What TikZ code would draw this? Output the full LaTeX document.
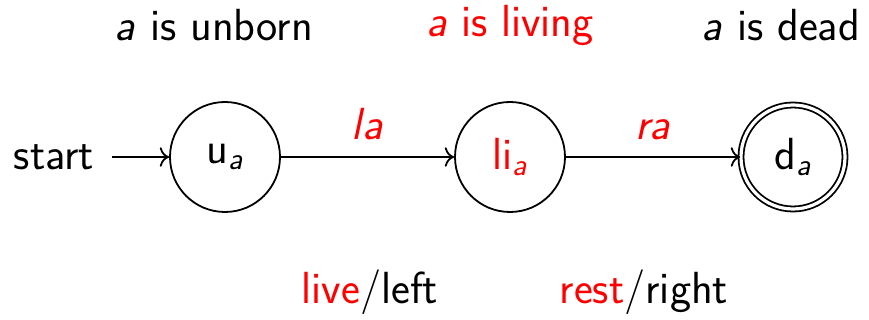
\documentclass[tikz,border=0pt]{standalone}
\usepackage{amsmath}
\usetikzlibrary{arrows.meta}
\newcommand{\sta}[1]{$\textsf{#1}_{\textsf{\textit{a}}}$}
\begin{document}
\begin{tikzpicture}[x=0.5pt,y=-0.5pt,every node/.style={font=\sffamily\fontsize{22.5}{27}\selectfont,inner sep=0pt},
  state/.style={draw,circle,line width=0.9pt,minimum size=55pt},
  edge/.style={-{To[scale=1.3]},line width=0.9pt}]
\useasboundingbox (0,0) rectangle (869,320);
% states of the variable a
\node[state] (u) at (225,157) {\sta{u}};
\node[state,text=red] (li) at (510,157) {\sta{li}};
\node[state,double,double distance=1.6pt,minimum size=52pt] (d) at (793,157) {\sta{d}};
\node (start) at (54,157) {start};
\coordinate (s) at (112,157);
\draw[edge] (s) -- (u);
\draw[edge] (u) -- (li) node[pos=0.5,above=8pt,text=red] {\textit{la}};
\draw[edge] (li) -- (d) node[pos=0.5,above=8pt,text=red] {\textit{ra}};
% what each state means
\node (t1) at (214,25) {\textit{a} is unborn};
\node[text=red] (t2) at (510,25) {\textit{a} is living};
\node (t3) at (781,25) {\textit{a} is dead};
\node (b1) at (370,292) {\textcolor{red}{live}/left};
\node (b2) at (644,292) {\textcolor{red}{rest}/right};
\end{tikzpicture}
\end{document}
